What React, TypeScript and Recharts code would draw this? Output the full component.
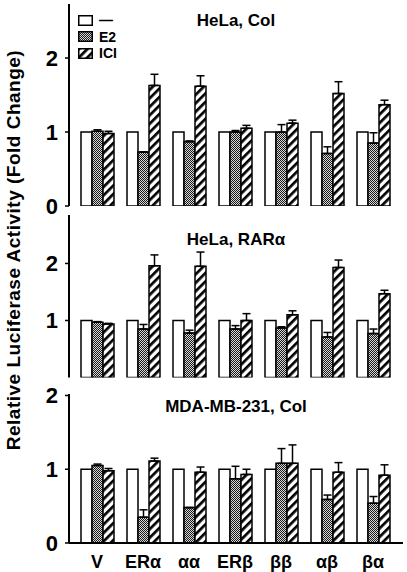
import { BarChart, Bar, XAxis, YAxis, ErrorBar } from "recharts"

const categories = ["V", "ERα", "αα", "ERβ", "ββ", "αβ", "βα"]
const control = [1, 1, 1, 1, 1, 1, 1]

// HeLa, Col
const colE2 = [1.01, 0.73, 0.87, 1.0, 1.0, 0.71, 0.85]
const colE2Err = [0.02, 0, 0.01, 0.02, 0.1, 0.09, 0.14]
const colIci = [0.98, 1.63, 1.62, 1.05, 1.12, 1.52, 1.37]
const colIciErr = [0.03, 0.15, 0.14, 0.04, 0.04, 0.16, 0.06]

// HeLa, RARα
const rarE2 = [0.97, 0.85, 0.78, 0.85, 0.87, 0.71, 0.77]
const rarE2Err = [0.01, 0.08, 0.05, 0.06, 0.02, 0.08, 0.08]
const rarIci = [0.94, 1.96, 1.95, 1.0, 1.1, 1.93, 1.47]
const rarIciErr = [0.01, 0.19, 0.25, 0.12, 0.07, 0.13, 0.06]

// MDA-MB-231, Col
const mdaE2 = [1.05, 0.35, 0.48, 0.87, 1.08, 0.59, 0.54]
const mdaE2Err = [0.02, 0.1, 0, 0.17, 0.2, 0.06, 0.09]
const mdaIci = [0.98, 1.11, 0.96, 0.93, 1.08, 0.96, 0.92]
const mdaIciErr = [0.03, 0.04, 0.07, 0.07, 0.25, 0.13, 0.14]

const yTicks = [0, 1, 2]
const legendItems = ["—", "E2", "ICI"]

const font = '"Liberation Sans", Arial, sans-serif'

function makeRows(e2: number[], e2Err: number[], ici: number[], iciErr: number[]) {
  return categories.map((name, i) => ({
    name,
    ctrl: control[i],
    e2: e2[i],
    e2Err: [0, e2Err[i]],
    ici: ici[i],
    iciErr: [0, iciErr[i]],
  }))
}

function Patterns({ id }: { id: string }) {
  return (
    <defs>
      <pattern id={`dots-${id}`} width="2" height="2" patternUnits="userSpaceOnUse">
        <rect width="2" height="2" fill="#d8d8d8" />
        <rect width="1" height="1" fill="#1a1a1a" />
        <rect x="1" y="1" width="1" height="1" fill="#1a1a1a" />
      </pattern>
      <pattern
        id={`stripe-${id}`}
        width="6"
        height="6"
        patternUnits="userSpaceOnUse"
        patternTransform="rotate(45)"
      >
        <rect width="6" height="6" fill="#fff" />
        <rect width="2.7" height="6" fill="#000" />
      </pattern>
    </defs>
  )
}

type PanelProps = {
  id: string
  rows: ReturnType<typeof makeRows>
  top: number
  height: number
  margin: { top: number; right: number; bottom: number; left: number }
  yMax: number
  showX?: boolean
}

function Panel({ id, rows, top, height, margin, yMax, showX }: PanelProps) {
  return (
    <div style={{ position: "absolute", left: 0, top }}>
      <BarChart
        width={407}
        height={height}
        data={rows}
        margin={margin}
        barGap={0}
        barCategoryGap={7}
      >
        <Patterns id={id} />
        <XAxis
          dataKey="name"
          height={showX ? 25 : 0}
          padding={{ left: 5, right: 7 }}
          axisLine={{ stroke: "#000", strokeWidth: 2 }}
          tickLine={false}
          tickSize={0}
          tickMargin={12}
          tick={
            showX
              ? { fill: "#000", fontSize: 18, fontWeight: 700, fontFamily: font }
              : false
          }
          interval={0}
        />
        <XAxis
          xAxisId="t"
          dataKey="name"
          orientation="top"
          height={0}
          tick={false}
          tickLine={false}
          axisLine={{ stroke: "#000", strokeWidth: 2 }}
        />
        <YAxis
          width={69}
          type="number"
          domain={[0, yMax]}
          ticks={yTicks}
          allowDataOverflow
          tickSize={4}
          tickMargin={7}
          axisLine={{ stroke: "#000", strokeWidth: 2 }}
          tickLine={{ stroke: "#000", strokeWidth: 1.5 }}
          tick={{ fill: "#000", fontSize: 22, fontWeight: 700, fontFamily: font }}
        />
        <YAxis
          yAxisId="r"
          orientation="right"
          width={0}
          type="number"
          domain={[0, 1]}
          tick={false}
          tickLine={false}
          axisLine={{ stroke: "#000", strokeWidth: 2 }}
        />
        <Bar dataKey="ctrl" fill="#fff" stroke="#000" strokeWidth={1.5} isAnimationActive={false} />
        <Bar
          dataKey="e2"
          fill={`url(#dots-${id})`}
          stroke="#000"
          strokeWidth={1.5}
          isAnimationActive={false}
        >
          <ErrorBar dataKey="e2Err" width={4} stroke="#000" strokeWidth={1.5} direction="y" />
        </Bar>
        <Bar
          dataKey="ici"
          fill={`url(#stripe-${id})`}
          stroke="#000"
          strokeWidth={1.5}
          isAnimationActive={false}
        >
          <ErrorBar dataKey="iciErr" width={4} stroke="#000" strokeWidth={1.5} direction="y" />
        </Bar>
      </BarChart>
    </div>
  )
}

const titleStyle = {
  position: "absolute" as const,
  left: 236,
  transform: "translate(-50%, -50%)",
  fontFamily: font,
  fontWeight: 700,
  fontSize: 17,
  whiteSpace: "nowrap" as const,
}

function Legend() {
  return (
    <div style={{ position: "absolute", left: 78, top: 12 }}>
      {legendItems.map((label, i) => (
        <div key={label} style={{ display: "flex", alignItems: "center", height: 16.5 }}>
          <svg width={15} height={11} style={{ marginRight: 6 }}>
            <Patterns id={`lg${i}`} />
            <rect
              x={0.75}
              y={0.75}
              width={13.5}
              height={9.5}
              fill={i === 0 ? "#fff" : i === 1 ? `url(#dots-lg${i})` : `url(#stripe-lg${i})`}
              stroke="#000"
              strokeWidth={1.5}
            />
          </svg>
          <span style={{ fontFamily: font, fontWeight: 700, fontSize: 14, lineHeight: "16px" }}>
            {label}
          </span>
        </div>
      ))}
    </div>
  )
}

export default function App() {
  return (
    <div
      style={{
        position: "absolute",
        left: 0,
        top: 0,
        width: 407,
        height: 572,
        background: "#fff",
        overflow: "hidden",
      }}
    >
      <Panel
        id="p1"
        rows={makeRows(colE2, colE2Err, colIci, colIciErr)}
        top={0}
        height={220}
        margin={{ top: 4, right: 4, bottom: 14, left: 0 }}
        yMax={2.73}
      />
      <Panel
        id="p2"
        rows={makeRows(rarE2, rarE2Err, rarIci, rarIciErr)}
        top={205}
        height={185}
        margin={{ top: 10, right: 4, bottom: 12.5, left: 0 }}
        yMax={2.85}
      />
      <Panel
        id="p3"
        rows={makeRows(mdaE2, mdaE2Err, mdaIci, mdaIciErr)}
        top={380}
        height={192}
        margin={{ top: 14, right: 4, bottom: 4, left: 0 }}
        yMax={2.02}
        showX
      />
      <div style={{ ...titleStyle, top: 21 }}>HeLa, Col</div>
      <div style={{ ...titleStyle, top: 240 }}>HeLa, RARα</div>
      <div style={{ ...titleStyle, top: 407 }}>MDA-MB-231, Col</div>
      <Legend />
      <div
        style={{
          position: "absolute",
          left: 14,
          top: 250,
          transform: "translate(-50%, -50%) rotate(-90deg)",
          fontFamily: font,
          fontWeight: 700,
          fontSize: 19,
          letterSpacing: 0.5,
          whiteSpace: "nowrap",
        }}
      >
        Relative Luciferase Activity (Fold Change)
      </div>
    </div>
  )
}
